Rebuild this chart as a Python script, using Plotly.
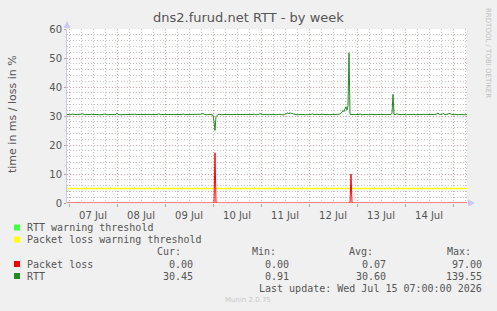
import pandas as pd
import plotly.graph_objects as go

# ---------------- data ----------------
start_time = "2026-07-06 23:00"
end_time = "2026-07-15 07:00"

# RTT (ms), one sample every 30 minutes from start_time
rtt = [
    30.5, 30.6, 30.5, 30.4, 30.5, 30.6, 30.7, 30.5, 30.5, 30.4, 30.5, 30.6, 30.5, 30.5, 30.6, 30.8, 30.6, 30.5, 30.4, 30.5,
    30.6, 30.5, 30.5, 30.6, 30.7, 30.6, 30.5, 30.4, 30.5, 30.5, 30.6, 30.5, 30.4, 30.5, 30.6, 30.5, 30.5, 30.7, 30.6, 30.5,
    30.5, 30.4, 30.5, 30.6, 30.5, 30.5, 30.6, 30.5, 30.4, 30.6, 30.9, 30.6, 30.5, 30.5, 30.4, 30.5, 30.6, 30.5, 30.5, 30.6,
    30.5, 30.5, 30.4, 30.5, 30.6, 30.5, 30.5, 30.6, 30.7, 30.5, 30.4, 30.5, 30.5, 30.6, 30.5, 30.5, 30.4, 30.5, 30.6, 30.5,
    30.5, 30.6, 30.5, 30.4, 30.5, 30.5, 30.6, 30.5, 30.5, 30.4, 30.5, 30.6, 30.8, 30.5, 30.5, 30.6, 30.5, 30.4, 30.5, 30.5,
    30.6, 30.5, 30.5, 30.4, 30.5, 30.6, 30.5, 30.5, 30.6, 30.5, 30.4, 30.5, 30.5, 30.6, 30.5, 30.5, 30.7, 30.5, 30.4, 30.5,
    30.5, 30.6, 30.5, 30.5, 30.4, 30.5, 30.6, 30.5, 30.5, 30.6, 30.5, 30.4, 30.5, 30.5, 30.6, 30.8, 30.9, 30.6, 30.5, 30.5,
    30.4, 30.5, 30.6, 30.5, 30.5, 30.4, 30.3, 28.0, 25.0, 29.8, 30.4, 30.5, 30.6, 30.5, 30.5, 30.4, 30.5, 30.6, 30.5, 30.5,
    30.5, 30.4, 30.5, 30.6, 30.5, 30.5, 30.4, 30.5, 30.6, 30.5, 30.5, 30.6, 30.5, 30.4, 30.5, 30.5, 30.6, 30.5, 30.4, 30.5,
    30.5, 30.6, 30.5, 30.5, 30.4, 30.6, 30.5, 30.7, 30.5, 30.4, 30.5, 30.5, 30.6, 30.8, 30.6, 30.5, 30.5, 30.4, 30.5, 30.6,
    30.5, 30.5, 30.4, 30.5, 30.6, 30.5, 30.5, 30.6, 30.5, 30.4, 30.5, 30.7, 30.6, 30.5, 30.5, 30.6, 30.5, 30.4, 30.8, 30.6,
    30.9, 31.1, 30.7, 31.2, 30.8, 31.0, 30.7, 30.6, 30.5, 30.6, 30.5, 30.4, 30.5, 30.6, 30.5, 30.5, 30.6, 30.5, 30.4, 30.5,
    30.6, 30.5, 30.5, 30.4, 30.5, 30.7, 30.6, 30.5, 30.5, 30.6, 30.5, 30.4, 30.5, 30.5, 30.6, 30.5, 30.6, 30.5, 30.4, 30.5,
    30.5, 30.6, 30.5, 30.4, 30.5, 30.5, 30.6, 30.5, 30.5, 30.6, 30.4, 30.5, 30.6, 30.7, 30.9, 31.3, 31.9, 31.5, 32.4, 33.2,
    32.1, 33.5, 51.8, 30.6, 30.5, 30.5, 30.6, 30.5, 30.4, 30.5, 30.6, 30.5, 30.5, 30.7, 30.5, 30.4, 30.5, 30.6, 30.5, 30.5,
    30.6, 30.5, 30.4, 30.5, 30.5, 30.6, 30.5, 30.5, 30.4, 30.5, 30.6, 30.5, 30.5, 30.6, 30.5, 30.4, 30.5, 30.5, 30.6, 30.5,
    30.5, 30.4, 30.5, 30.6, 30.5, 31.0, 37.5, 30.5, 30.4, 30.5, 30.8, 30.6, 30.5, 30.5, 30.4, 30.5, 30.6, 30.5, 30.5, 30.4,
    30.5, 30.6, 30.5, 30.5, 30.4, 30.5, 30.6, 30.5, 30.5, 30.4, 30.5, 30.6, 30.5, 30.5, 30.4, 30.5, 30.6, 30.5, 30.5, 30.6,
    30.5, 30.4, 30.5, 30.5, 30.6, 30.5, 30.5, 30.4, 30.5, 30.6, 30.8, 31.0, 30.7, 30.5, 30.6, 30.5, 30.9, 30.6, 30.5, 30.5,
    30.6, 30.5, 30.8, 30.9, 30.6, 30.5, 30.5, 30.4, 30.6, 30.5, 30.5, 30.4, 30.5, 30.6, 30.5, 30.5, 30.4, 30.5, 30.4, 30.5, 30.45,
]

# Packet loss (%), sparse samples (times / values)
loss_times = ["2026-07-06 23:00", "2026-07-10 00:30", "2026-07-10 01:00", "2026-07-10 01:30",
              "2026-07-12 20:30", "2026-07-12 21:00", "2026-07-12 21:30", "2026-07-15 07:00"]
loss_values = [0, 0, 17.3, 0, 0, 10.0, 0, 0]

# Packet loss warning threshold (%)
loss_warning = 5

title = "dns2.furud.net RTT - by week"
y_title = "time in ms / loss in %"
legend_names = ["RTT warning threshold", "Packet loss warning threshold", "Packet loss", "RTT"]
legend_colors = ["#44FF44", "#FFFF00", "#FF0000", "#228B22"]
stat_headers = ["Cur:", "Min:", "Avg:", "Max:"]
loss_stats = ["0.00", "0.00", "0.07", "97.00"]
rtt_stats = ["30.45", "0.91", "30.60", "139.55"]
last_update = "Last update: Wed Jul 15 07:00:00 2026"
version = "Munin 2.0.75"
side_text = "RRDTOOL / TOBI OETIKER"

# ---------------- figure ----------------
W, H = 497, 311
L, R, T, B = 67, 30, 29, 108
PW, PH = W - L - R, H - T - B


def px(x):
    return (x - L) / PW


def py(y):
    return (T + PH - y) / PH


rtt_times = pd.date_range(start_time, periods=len(rtt), freq="30min")

fig = go.Figure()
fig.add_trace(go.Scatter(x=[start_time, end_time], y=[loss_warning, loss_warning], mode="lines",
                         line=dict(color="#FFFF00", width=1.3), hoverinfo="skip"))
fig.add_trace(go.Scatter(x=loss_times, y=loss_values, mode="lines",
                         line=dict(color="#FF0000", width=1), hoverinfo="skip"))
fig.add_trace(go.Scatter(x=rtt_times, y=rtt, mode="lines",
                         line=dict(color="#228B22", width=1), hoverinfo="skip"))

RED_GRID = "#E69A9A"
GRAY_GRID = "#C4C4C4"
DASH = "1px,2px"
TXT = "#555555"

fig.update_layout(
    width=W, height=H,
    margin=dict(l=L, r=R, t=T, b=B, pad=0),
    paper_bgcolor="#F0F0F0", plot_bgcolor="#FFFFFF",
    showlegend=False,
    font=dict(family="DejaVu Sans", size=10, color=TXT),
    xaxis=dict(
        type="date", range=[start_time, end_time],
        tick0="2026-07-07", dtick=86400000, tickformat="%d %b", ticklabelmode="period",
        showgrid=True, gridcolor=RED_GRID, griddash=DASH, gridwidth=1,
        ticks="outside", ticklen=3, tickcolor="#AAAAAA",
        tickfont=dict(family="DejaVu Sans", size=10, color=TXT),
        minor=dict(dtick=6 * 3600 * 1000, showgrid=True, gridcolor=GRAY_GRID, griddash=DASH, gridwidth=1),
        showline=False, zeroline=False, fixedrange=True,
    ),
    yaxis=dict(
        range=[0, 60], dtick=10, tick0=0,
        showgrid=True, gridcolor=RED_GRID, griddash=DASH, gridwidth=1,
        ticks="outside", ticklen=2, tickcolor="#AAAAAA",
        tickfont=dict(family="DejaVu Sans", size=10, color=TXT),
        minor=dict(dtick=2, showgrid=True, gridcolor=GRAY_GRID, griddash=DASH, gridwidth=1),
        showline=True, linecolor="#C8C8F0", linewidth=1,
        zeroline=False, fixedrange=True,
    ),
)

shapes = []
# axis arrows
shapes.append(dict(type="path", xref="paper", yref="paper",
                   path=f"M {px(63.5)} {py(28)} L {px(70.5)} {py(28)} L {px(67)} {py(21)} Z",
                   fillcolor="#C8C8F0", line=dict(width=0)))
shapes.append(dict(type="path", xref="paper", yref="paper",
                   path=f"M {px(468)} {py(199.5)} L {px(468)} {py(206.5)} L {px(475)} {py(203)} Z",
                   fillcolor="#C8C8F0", line=dict(width=0)))

annotations = []
annotations.append(dict(text=title, xref="paper", yref="paper", x=px(248), y=py(17),
                        xanchor="center", yanchor="middle", showarrow=False,
                        font=dict(family="DejaVu Sans", size=13, color=TXT)))
annotations.append(dict(text=y_title, xref="paper", yref="paper", x=px(12), y=py(114),
                        xanchor="center", yanchor="middle", showarrow=False, textangle=-90,
                        font=dict(family="DejaVu Sans", size=11, color=TXT)))
annotations.append(dict(text=side_text, xref="paper", yref="paper", x=px(488), y=py(53),
                        xanchor="center", yanchor="middle", showarrow=False, textangle=90,
                        font=dict(family="DejaVu Sans", size=7, color="#C0C0C0")))
annotations.append(dict(text=version, xref="paper", yref="paper", x=px(248), y=py(300),
                        xanchor="center", yanchor="middle", showarrow=False,
                        font=dict(family="DejaVu Sans", size=7, color="#C8C8C8")))

MONO = dict(family="DejaVu Sans Mono", size=10, color=TXT)
rows_y = [227.5, 239.5, 264, 276]
for name, color, yy in zip(legend_names, legend_colors, rows_y):
    shapes.append(dict(type="rect", xref="paper", yref="paper",
                       x0=px(14), x1=px(20), y0=py(yy - 3), y1=py(yy + 3),
                       fillcolor=color, line=dict(width=0)))
    annotations.append(dict(text=name, xref="paper", yref="paper", x=px(25), y=py(yy),
                            xanchor="left", yanchor="middle", showarrow=False, font=MONO))

header_right = [183, 278, 375, 473]
value_right = [195, 291, 388, 484]
for hdr, xr in zip(stat_headers, header_right):
    annotations.append(dict(text=hdr, xref="paper", yref="paper", x=px(xr), y=py(251.5),
                            xanchor="right", yanchor="middle", showarrow=False, font=MONO))
for vals, yy in ((loss_stats, 264), (rtt_stats, 276)):
    for v, xr in zip(vals, value_right):
        annotations.append(dict(text=v, xref="paper", yref="paper", x=px(xr), y=py(yy),
                                xanchor="right", yanchor="middle", showarrow=False, font=MONO))
annotations.append(dict(text=last_update, xref="paper", yref="paper", x=px(484), y=py(288),
                        xanchor="right", yanchor="middle", showarrow=False, font=MONO))

fig.update_layout(shapes=shapes, annotations=annotations)
fig.write_html("out.html")
